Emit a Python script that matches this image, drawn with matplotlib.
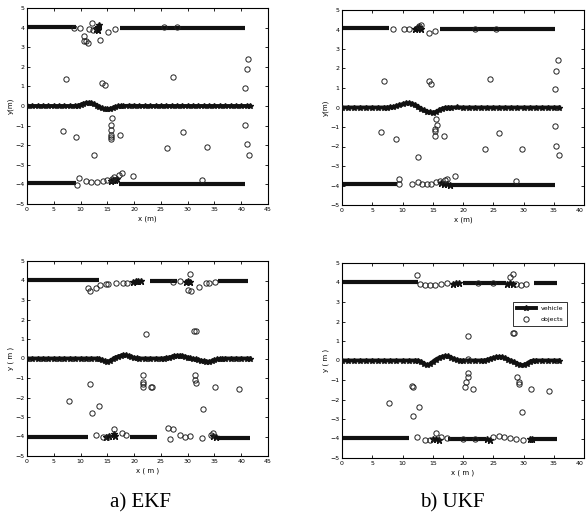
import matplotlib
matplotlib.use('Agg')
import matplotlib.pyplot as plt

### Trajectory data, one set per panel (x, y in metres)

# a) EKF, top run
ekfA_veh_x = [0, 1, 2, 3, 4, 5, 6, 7, 8, 9,
              9.5, 10, 10.5, 11, 11.5, 12, 12.5, 13, 13.5, 14, 14.5, 15, 15.5, 16, 16.5, 17, 17.5, 18,
              19, 20, 21, 22, 23, 24, 25, 26, 27, 28, 29, 30, 31, 32, 33, 34, 35, 36, 37, 38, 39, 40, 41, 41.6]
ekfA_veh_y = [0, 0, 0, 0, 0, 0, 0, 0, 0, 0,
              0.02, 0.06, 0.11, 0.15, 0.17, 0.15, 0.09, 0.02, -0.06, -0.12, -0.16, -0.17, -0.15, -0.10, -0.05, -0.02, 0, 0,
              0.01, 0.01, 0, 0, 0, 0, 0, 0, 0, 0, 0, 0, 0, 0, 0, 0, 0, 0, 0, 0, 0, 0, 0, 0]
ekfA_lanes = [(0, 9.2, 4.05), (17.4, 40.7, 4.0), (0, 9.2, -3.92), (17.1, 40.7, -3.99)]
ekfA_blob_x = [12.9, 13.1, 13.3, 13.5, 13.2, 15.6, 16.0, 16.4, 16.8]
ekfA_blob_y = [3.95, 4.0, 4.05, 4.12, 3.9, -3.85, -3.8, -3.75, -3.7]
ekfA_obj_x = [12.1, 10.6, 11.1, 11.3, 10.6, 13.7, 15.2, 16.5, 9.9, 8.7, 11.5, 12.3, 25.5, 28.0,
              7.3, 14.0, 14.6, 27.3, 40.7, 41.0, 41.3,
              6.7, 9.2, 15.8, 15.7, 15.7, 15.7, 15.7, 15.7, 17.4, 12.6, 26.2, 29.2, 33.7, 40.7, 41.0, 41.5,
              9.8, 11.1, 11.9, 13.0, 14.2, 14.9, 15.8, 16.3, 17.1, 17.7, 19.8, 32.6, 9.3]
ekfA_obj_y = [4.26, 3.55, 3.3, 3.2, 3.3, 3.37, 3.77, 3.92, 3.97, 3.97, 3.95, 3.9, 4.02, 4.02,
              1.38, 1.19, 1.07, 1.46, 0.9, 1.89, 2.4,
              -1.28, -1.57, -0.63, -0.97, -1.23, -1.48, -1.57, -1.7, -1.48, -2.5, -2.16, -1.31, -2.08, -0.97, -1.94, -2.5,
              -3.65, -3.83, -3.9, -3.87, -3.83, -3.78, -3.73, -3.61, -3.53, -3.44, -3.56, -3.78, -4.04]

# b) UKF, top run
ukfA_veh_x = [0, 1, 2, 3, 4, 5, 6, 7,
              7.5, 8, 8.5, 9, 9.5, 10, 10.5, 11, 11.5, 12, 12.5, 13, 13.5, 14, 14.5, 15, 15.5, 16, 16.5, 17, 17.5,
              18, 19, 20, 21, 22, 23, 24, 25, 26, 27, 28, 29, 30, 31, 32, 33, 34, 35, 35.9]
ukfA_veh_y = [0, 0, 0, 0, 0, 0, 0, 0,
              0, 0.01, 0.03, 0.07, 0.12, 0.17, 0.21, 0.22, 0.20, 0.13, 0.03, -0.07, -0.15, -0.21, -0.25, -0.26, -0.23, -0.15, -0.07, -0.02, 0,
              0, 0.01, 0, 0, 0, 0, 0, 0, 0, 0, 0, 0, 0, 0, 0, 0, 0, 0, 0]
ukfA_lanes = [(0, 7.7, 4.06), (16.2, 35.2, 4.01), (0, 9.1, -3.92), (17.9, 35.2, -3.97)]
ukfA_blob_x = [12.0, 12.4, 12.8, 13.0, 16.4, 16.9, 17.4, 17.8]
ukfA_blob_y = [4.05, 4.1, 4.15, 4.0, -3.85, -3.9, -3.92, -3.95]
ukfA_obj_x = [8.5, 10.2, 11.0, 14.4, 15.4, 12.8, 13.0, 22.0, 25.5,
              7.0, 14.3, 14.7, 24.5, 35.2, 35.4, 35.7,
              6.4, 8.9, 12.6, 15.5, 15.7, 15.4, 15.4, 15.4, 16.9, 23.6, 26.0, 29.7, 35.2, 35.4, 35.8,
              9.5, 9.5, 11.5, 12.6, 13.2, 14.0, 14.7, 15.5, 16.2, 17.0, 17.4, 18.6, 28.7]
ukfA_obj_y = [4.0, 4.0, 4.0, 3.8, 3.9, 4.2, 4.25, 4.0, 4.0,
              1.38, 1.37, 1.21, 1.47, 0.94, 1.89, 2.44,
              -1.28, -1.6, -2.54, -0.58, -0.89, -1.11, -1.2, -1.45, -1.45, -2.13, -1.31, -2.12, -0.94, -1.95, -2.44,
              -3.65, -3.92, -3.92, -3.84, -3.92, -3.92, -3.92, -3.84, -3.79, -3.7, -3.65, -3.53, -3.79]

# a) EKF, bottom run
ekfB_veh_x = [0, 1, 2, 3, 4, 5, 6, 7, 8, 9, 10, 11, 12, 13,
              13.5, 14, 14.5, 15, 15.5, 16, 16.5, 17, 17.5, 18, 18.5, 19, 19.5, 20, 20.5, 21,
              22, 23, 24, 25,
              25.5, 26, 26.5, 27, 27.5, 28, 28.5, 29, 29.5, 30, 30.5, 31, 31.5, 32, 32.5, 33, 33.5, 34, 34.5, 35, 35.5, 36, 36.5, 37,
              38, 39, 40, 41, 41.6]
ekfB_veh_y = [0, 0, 0, 0, 0, 0, 0, 0, 0, 0, 0, 0, 0, 0,
              -0.02, -0.08, -0.14, -0.17, -0.12, -0.04, 0.04, 0.10, 0.14, 0.17, 0.16, 0.12, 0.07, 0.03, 0.01, 0,
              0, 0, 0, 0,
              0, 0.02, 0.05, 0.08, 0.12, 0.14, 0.15, 0.13, 0.09, 0.05, 0.01, -0.02, -0.05, -0.08, -0.11, -0.14, -0.16, -0.17, -0.14, -0.09, -0.05, -0.02, -0.01, 0,
              0, 0, 0, 0, 0]
ekfB_lanes = [(0, 13.4, 4.04), (23, 28, 3.98), (35.7, 41.3, 3.98),
              (0, 11.3, -4.01), (19.3, 24.2, -4.01), (35.7, 41.6, -4.06)]
ekfB_blob_x = [19.8, 20.3, 20.8, 21.3, 29.6, 30.0, 30.4, 14.8, 15.3, 16.2, 16.5, 34.8, 35.3]
ekfB_blob_y = [3.9, 3.95, 4.0, 3.98, 3.9, 3.95, 3.9, -4.0, -3.95, -3.85, -3.95, -3.95, -4.0]
ekfB_obj_x = [11.3, 11.8, 12.9, 13.7, 14.8, 15.2, 16.6, 18.0, 18.6, 27.3, 28.6, 30.4, 30.1, 30.6, 32.2, 33.4, 34.0, 35.1,
              22.2, 31.1, 31.6, 11.7, 7.8, 12.2, 13.4, 21.7, 21.6, 21.6, 21.6, 23.3, 23.1, 31.4, 31.4, 31.6, 32.8, 35.1, 39.6,
              12.9, 14.2, 15.1, 16.3, 17.7, 18.5, 26.4, 27.2, 26.7, 28.6, 29.5, 30.4, 32.6, 34.3, 34.8]
ekfB_obj_y = [3.63, 3.46, 3.63, 3.75, 3.8, 3.8, 3.87, 3.87, 3.87, 3.93, 3.98, 4.32, 3.53, 3.46, 3.67, 3.87, 3.87, 3.93,
              1.25, 1.42, 1.42, -1.31, -2.18, -2.82, -2.42, -0.85, -1.19, -1.31, -1.45, -1.48, -1.48, -0.85, -1.11, -1.28, -2.61, -1.45, -1.54,
              -3.94, -4.01, -4.01, -3.6, -3.81, -3.92, -3.58, -3.63, -4.15, -3.92, -4.01, -3.98, -4.06, -3.92, -3.84]

# b) UKF, bottom run
ukfB_veh_x = [0, 1, 2, 3, 4, 5, 6, 7, 8, 9, 10, 11, 12,
              12.5, 13, 13.5, 14, 14.5, 15, 15.5, 16, 16.5, 17, 17.5, 18, 18.5, 19, 19.5, 20,
              21, 22, 23,
              23.5, 24, 24.5, 25, 25.5, 26, 26.5, 27, 27.5, 28, 28.5, 29, 29.5, 30, 30.5, 31, 31.5, 32,
              33, 34, 35, 35.9]
ukfB_veh_y = [0, 0, 0, 0, 0, 0, 0, 0, 0, 0, 0, 0, 0,
              0, -0.06, -0.16, -0.24, -0.20, -0.07, 0.05, 0.13, 0.19, 0.22, 0.21, 0.15, 0.08, 0.02, 0, 0,
              0, 0, 0,
              0, 0.03, 0.08, 0.13, 0.17, 0.19, 0.17, 0.11, 0.04, -0.03, -0.10, -0.17, -0.22, -0.24, -0.17, -0.07, -0.01, 0,
              0, 0, 0, 0]
ukfB_lanes = [(0, 12.6, 4.05), (20, 27.1, 3.97), (31.8, 35.6, 3.99),
              (0, 11.0, -3.99), (17.5, 23.8, -4.01), (31.5, 35.6, -4.04)]
ukfB_blob_x = [18.3, 18.8, 19.3, 27.3, 27.8, 28.2, 15.0, 15.5, 16.0, 24.0, 24.5, 31.1, 31.4]
ukfB_blob_y = [3.9, 3.95, 3.97, 3.93, 3.97, 3.9, -4.05, -4.0, -4.08, -4.05, -4.1, -4.0, -4.05]
ukfB_obj_x = [12.4, 12.9, 13.7, 14.5, 15.3, 16.4, 17.3, 27.7, 28.2, 28.8, 29.6, 30.4, 22.5, 25.0,
              20.8, 28.2, 28.5, 11.5, 11.8, 7.7, 11.8, 12.8, 20.8, 20.8, 20.5, 20.4, 21.6, 29.0, 29.2, 29.3, 29.8, 31.2, 34.2, 20.8,
              12.4, 13.7, 14.5, 15.6, 16.4, 17.3, 24.9, 26.0, 26.8, 27.7, 28.8, 29.9, 20.0, 22.0]
ukfB_obj_y = [4.4, 3.93, 3.85, 3.85, 3.85, 3.93, 3.97, 4.28, 4.45, 3.93, 3.85, 3.9, 3.97, 3.97,
              1.26, 1.41, 1.41, -1.31, -1.35, -2.2, -2.84, -2.4, -0.66, -0.83, -1.09, -1.35, -1.48, -0.87, -1.09, -1.18, -2.62, -1.47, -1.55, 0.08,
              -3.94, -4.07, -4.07, -3.73, -3.9, -3.99, -3.9, -3.85, -3.94, -3.99, -4.02, -4.07, -4.01, -4.01]

W, H = 588, 526


def axRect(left, top, right, bottom):
    # pixel box -> figure fraction
    return [left / W, 1 - bottom / H, (right - left) / W, (bottom - top) / H]


def drawPanel(ax, veh_x, veh_y, lanes, blob_x, blob_y, obj_x, obj_y, xmax, xlab, ylab):
    for x0, x1, y in lanes:
        ax.plot([x0, x1], [y, y], color='#111111', lw=3.0, solid_capstyle='butt', zorder=2)
    ax.plot(blob_x, blob_y, ls='none', marker='*', ms=5, color='#111111', zorder=3)
    veh, = ax.plot(veh_x, veh_y, '-*', color='#111111', lw=2.8, ms=4.2, zorder=3, label='vehicle')
    obj, = ax.plot(obj_x, obj_y, 'o', mfc='none', mec='#222222', mew=0.7, ms=3.8, zorder=4, label='objects')
    ax.set_xlim(0, xmax)
    ax.set_ylim(-5, 5)
    ax.set_xticks(range(0, xmax + 1, 5))
    ax.set_yticks(range(-5, 6))
    ax.tick_params(direction='in', length=2, width=0.6, labelsize=4.5, pad=2, top=True, right=True)
    ax.set_xlabel(xlab, fontsize=5, labelpad=3)
    ax.set_ylabel(ylab, fontsize=5, labelpad=1)
    for s in ax.spines.values():
        s.set_linewidth(0.8)
    return veh, obj


fig = plt.figure(figsize=(W / 100, H / 100), dpi=100)

ax1 = fig.add_axes(axRect(27, 8, 268, 204))
drawPanel(ax1, ekfA_veh_x, ekfA_veh_y, ekfA_lanes, ekfA_blob_x, ekfA_blob_y, ekfA_obj_x, ekfA_obj_y, 45, 'x (m)', 'y(m)')

ax2 = fig.add_axes(axRect(342, 10, 584, 205))
drawPanel(ax2, ukfA_veh_x, ukfA_veh_y, ukfA_lanes, ukfA_blob_x, ukfA_blob_y, ukfA_obj_x, ukfA_obj_y, 40, 'x (m)', 'y(m)')

ax3 = fig.add_axes(axRect(27, 261, 268, 456))
drawPanel(ax3, ekfB_veh_x, ekfB_veh_y, ekfB_lanes, ekfB_blob_x, ekfB_blob_y, ekfB_obj_x, ekfB_obj_y, 45, 'x ( m )', 'y ( m )')

ax4 = fig.add_axes(axRect(342, 263, 584, 458))
veh, obj = drawPanel(ax4, ukfB_veh_x, ukfB_veh_y, ukfB_lanes, ukfB_blob_x, ukfB_blob_y, ukfB_obj_x, ukfB_obj_y, 40, 'x ( m )', 'y ( m )')
leg = ax4.legend([veh, obj], ['vehicle', 'objects'], loc='upper right', bbox_to_anchor=(0.943, 0.815),
                 fontsize=4.5, handlelength=3, fancybox=False, framealpha=1, edgecolor='#111111',
                 borderpad=0.6, labelspacing=0.9)
leg.get_frame().set_linewidth(0.6)

# the last x tick of the right-hand panels sits on the figure edge
for ax in (ax2, ax4):
    ax.get_xticklabels()[-1].set_ha('right')

fig.text(140 / W, 1 - 503 / H, 'a) EKF', ha='center', va='center', fontsize=15, family='Liberation Serif')
fig.text(452 / W, 1 - 503 / H, 'b) UKF', ha='center', va='center', fontsize=15, family='Liberation Serif')

fig.savefig('out.png', dpi=100)
